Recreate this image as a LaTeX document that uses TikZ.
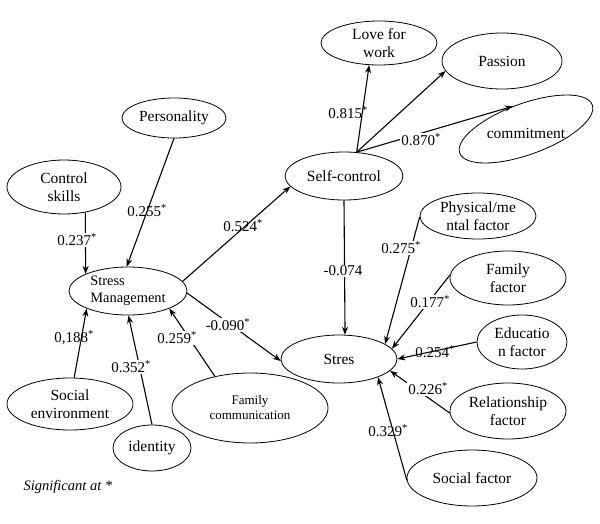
\documentclass[tikz,border=0pt]{standalone}
\usepackage{fontspec}
\setmainfont{Liberation Serif}
\usetikzlibrary{shapes.geometric, arrows.meta}

\begin{document}
\begin{tikzpicture}[x=1pt, y=-1pt,
		var/.style={draw, ellipse, line width=0.8pt, inner sep=0pt, align=center, font=\fontsize{15.5}{18}\selectfont},
		link/.style={-{Stealth[length=8pt, width=6pt]}, line width=1.1pt},
		coef/.style={inner sep=1pt, font=\fontsize{15}{17}\selectfont},
		cut/.style={coef, fill=white}]
		\useasboundingbox (0,0) rectangle (600,524);

		% stress management side
		\node[var, minimum width=104, minimum height=40] (pers) at (174,118) {Personality};
		\node[var, minimum width=114, minimum height=54] (ctrl) at (64,187) {Control\\skills};
		\node[var, minimum width=118, minimum height=48, align=left, font=\fontsize{14.4}{17.5}\selectfont] (sm) at (128,291) {Stress\\Management};
		\node[var, minimum width=126, minimum height=52] (soc) at (70,404) {Social\\environment};
		\node[var, minimum width=78, minimum height=46] (iden) at (152,448) {identity};
		\node[var, minimum width=156, minimum height=70, font=\fontsize{13}{15}\selectfont] (fam) at (250,408) {Family\\communication};

		% self-control
		\node[var, minimum width=118, minimum height=48] (sc) at (344,176) {Self-control};
		\node[var, minimum width=116, minimum height=44] (love) at (379,43) {Love for\\work};
		\node[var, minimum width=120, minimum height=56] (pass) at (502,61) {Passion};
		\node[var, rotate=20, minimum width=141, minimum height=51,
			label={[font=\fontsize{15.5}{18}\selectfont, yshift=-4pt]center:commitment}] (commit) at (526,129) {};

		% stres
		\node[var, minimum width=116, minimum height=48] (stres) at (339,359) {Stres};
		\node[var, minimum width=116, minimum height=46] (phys) at (478,216) {Physical/me\\ntal factor};
		\node[var, minimum width=116, minimum height=54] (famf) at (508,278) {Family\\factor};
		\node[var, minimum width=90, minimum height=54] (edu) at (522,342) {Educatio\\n factor};
		\node[var, minimum width=116, minimum height=56] (rel) at (508,411) {Relationship\\factor};
		\node[var, minimum width=130, minimum height=56] (socf) at (472,478) {Social factor};

		\draw[link] (ctrl.-50) -- (sm.158);
		\draw[link] (pers.south) -- (sm.93);
		\draw[link] (sm.10) -- (sc.191);
		\draw[link] (sm.-2) -- (stres.182);
		\draw[link] (soc.81) -- (sm.203);
		\draw[link] (iden.north) -- (sm.-89);
		\draw[link] (fam.138) -- (sm.-23);

		\draw[link] (sc.62) -- (love.246);
		\draw[link] (sc.62) -- (pass.190);
		\draw[link] (sc.62) -- (commit.100);
		\draw[link] (sc.south) -- (stres.76);

		\draw[link] (phys.181) -- (stres.18);
		\draw[link] (famf.177) -- (stres.11);
		\draw[link] (edu.west) -- (stres.east);
		\draw[link] (rel.182) -- (stres.-13);
		\draw[link] (socf.182) -- (stres.-25);

		% coefficients
		\node[cut] (cCtrl) at (77,240) {0.237\textsuperscript{*}};
		\node[coef] (cPers) at (147,211) {0.255\textsuperscript{*}};
		\node[coef] (cSc) at (243,226) {0.524\textsuperscript{*}};
		\node[cut] (cSm) at (228,325) {-0.090\textsuperscript{*}};
		\node[coef] (cSoc) at (74,338) {0,188\textsuperscript{*}};
		\node[cut] (cIden) at (131,367) {0.352\textsuperscript{*}};
		\node[cut] (cFam) at (177,338) {0.259\textsuperscript{*}};
		\node[coef] (cLove) at (348,113) {0.815\textsuperscript{*}};
		\node[cut] (cCommit) at (421,140) {0.870\textsuperscript{*}};
		\node[cut] (cStres) at (343,271) {-0.074};
		\node[cut] (cPhys) at (401,248) {0.275\textsuperscript{*}};
		\node[cut] (cFamf) at (430,302) {0.177\textsuperscript{*}};
		\node[coef] (cEdu) at (435,352) {0.254\textsuperscript{*}};
		\node[cut] (cRel) at (428,389) {0.226\textsuperscript{*}};
		\node[coef] (cSocf) at (388,431) {0.329\textsuperscript{*}};

		\node[anchor=west, font=\fontsize{14.5}{17}\selectfont\itshape] (note) at (20,487) {Significant at *};
	\end{tikzpicture}
\end{document}
